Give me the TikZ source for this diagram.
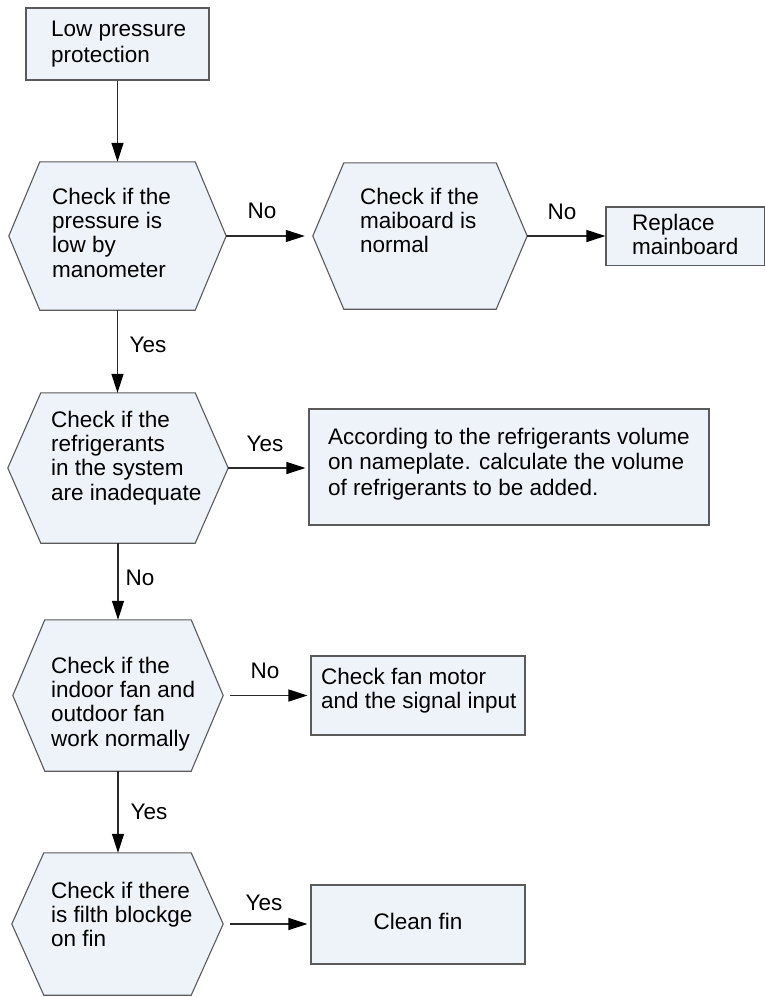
\documentclass[tikz,border=0pt]{standalone}
\usepackage{fontspec}
\setmainfont{Liberation Sans}
\usetikzlibrary{arrows.meta}

\definecolor{shapefill}{HTML}{EEF3FA}
\definecolor{shapeline}{HTML}{5A5A5A}
\definecolor{flowline}{HTML}{2A2A2A}

\newcommand\chartfont{\fontsize{22.5}{24.3}\selectfont}
\newcommand\widefont{\fontsize{22.5}{25.6}\selectfont}

% hexagonal decision outline around an (invisible) area node #1, with inset #2 (pt)
\newcommand\hexagonat[2]{%
  \draw[hexline] ([xshift=#2pt]#1.north west) -- ([xshift=-#2pt]#1.north east)
    -- (#1.east) -- ([xshift=-#2pt]#1.south east)
    -- ([xshift=#2pt]#1.south west) -- (#1.west) -- cycle;}

\tikzset{
  boxframe/.style={draw=shapeline, fill=shapefill, line width=1.1pt, inner sep=0pt},
  hexarea/.style={draw=none, inner sep=0pt},
  hexline/.style={draw=shapeline, fill=shapefill, line width=1.1pt, line join=miter},
  txt/.style={anchor=north west, inner sep=0pt, align=left, font=\chartfont,
    execute at begin node={\rule{0pt}{17pt}}},
  lab/.style={inner sep=0pt, font=\chartfont},
  flow/.style={draw=flowline, line width=1.2pt,
    -{Triangle[length=19pt,width=12pt,color=black]}},
}

\begin{document}
\begin{tikzpicture}[x=1pt, y=-1pt]
\useasboundingbox (0,0) rectangle (765,997);
\fill[white] (0,0) rectangle (765,997);

% rectangular process boxes
\node[boxframe, minimum width=183pt, minimum height=72pt] (b1) at (117.5,44) {};
\node[boxframe, minimum width=158.5pt, minimum height=58.5pt] (rep) at (685.25,236.25) {};
\node[boxframe, minimum width=400pt, minimum height=116pt] (acc) at (509,467) {};
\node[boxframe, minimum width=214pt, minimum height=79pt] (fan) at (418,695.5) {};
\node[boxframe, minimum width=214pt, minimum height=79pt] (clean) at (418,924.5) {};

% decision hexagons
\node[hexarea, minimum width=217pt, minimum height=148pt] (h1) at (117.5,236) {};
\node[hexarea, minimum width=214pt, minimum height=146pt] (h2) at (420,236) {};
\node[hexarea, minimum width=220pt, minimum height=150pt] (h3) at (118,468) {};
\node[hexarea, minimum width=210pt, minimum height=151pt] (h4) at (118,695.5) {};
\node[hexarea, minimum width=211pt, minimum height=142pt] (h5) at (117.5,924) {};
\hexagonat{h1}{31}
\hexagonat{h2}{31}
\hexagonat{h3}{33}
\hexagonat{h4}{32}
\hexagonat{h5}{32}

% texts
\node[txt, font=\widefont] (b1t) at (51,20.8) {Low pressure\\protection};
\node[txt] (h1t) at (52,187.8) {Check if the\\pressure is\\low by\\manometer};
\node[txt] (h2t) at (360,187.8) {Check if the\\maiboard is\\normal};
\node[txt] (rept) at (632,213.8) {Replace\\mainboard};
\node[txt] (h3t) at (51,410.8) {Check if the\\refrigerants\\in the system\\are inadequate};
\node[txt, font=\widefont] (acct) at (328,427.8) {According to the refrigerants volume\\on nameplate. calculate the volume\\of refrigerants to be added.};
\node[txt] (h4t) at (51,656.8) {Check if the\\indoor fan and\\outdoor fan\\work normally};
\node[txt] (fant) at (321,667.8) {Check fan motor\\and the signal input};
\node[txt] (h5t) at (51,881.8) {Check if there\\is filth blockge\\on fin};
\node[txt, anchor=north] (cleant) at (418,911.8) {Clean fin};

% connectors
\draw[flow] (b1.south) -- (b1.south |- h1.north);
\draw[flow, shorten >=8pt] (h1.east) -- (h2.west);
\draw[flow] (h2.east) -- (h2.east -| rep.west);
\draw[flow] (h1.south) -- (h1.south |- h3.north);
\draw[flow, shorten >=3pt] (h3.east) -- (h3.east -| acc.west);
\draw[flow] (h3.south) -- (h3.south |- h4.north);
\draw[flow, shorten <=7pt, shorten >=3pt] (h4.east) -- (h4.east -| fan.west);
\draw[flow] (h4.south) -- (h4.south |- h5.north);
\draw[flow, shorten <=7pt, shorten >=3pt] (h5.east) -- (h5.east -| clean.west);

% branch labels
\node[lab] (l1) at (262,211) {No};
\node[lab] (l2) at (562,212) {No};
\node[lab] (l3) at (148,345) {Yes};
\node[lab] (l4) at (265,444) {Yes};
\node[lab] (l5) at (140,578) {No};
\node[lab] (l6) at (265,671) {No};
\node[lab] (l7) at (149,812) {Yes};
\node[lab] (l8) at (264,903) {Yes};
\end{tikzpicture}
\end{document}
